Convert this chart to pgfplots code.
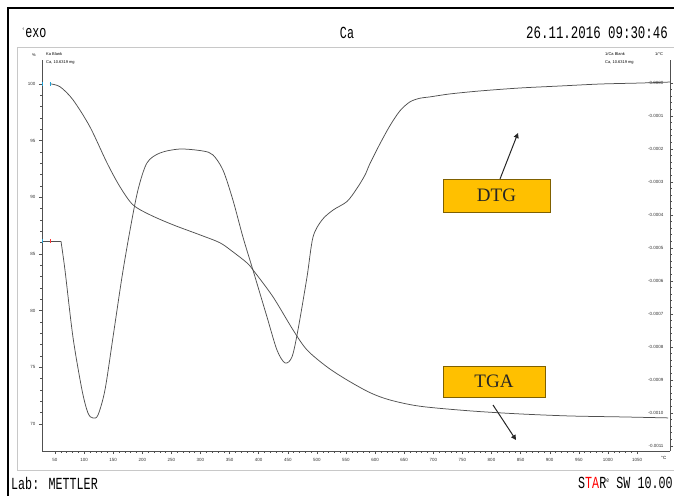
\documentclass[border=0pt]{standalone}
\usepackage{pgfplots}
\pgfplotsset{compat=1.18}
\usepackage{pgfplotstable}
\usetikzlibrary{arrows.meta}
\usepackage{fontspec}
\setmainfont{Liberation Serif}
\newfontfamily\monof{Liberation Mono}
\newfontfamily\sansf{Liberation Sans}
\definecolor{curve}{HTML}{505050}
\definecolor{boxfill}{HTML}{FFC000}
\definecolor{boxedge}{HTML}{7F6000}
\definecolor{framegray}{HTML}{C8C8C8}

\pgfplotstableread{
T tga
41.4 100
58.6 99.74
80.9 98.59
110.1 96.20
139.3 93.03
161.7 90.91
184.0 89.32
213.2 88.44
252.7 87.56
299.1 86.67
333.5 85.97
355.8 85.17
379.9 84.20
390.2 83.58
424.6 81.20
458.9 78.29
483.0 76.52
517.4 75.02
551.7 73.87
591.2 72.75
625.6 72.10
677.1 71.55
763.1 71.14
849.0 70.87
934.9 70.69
1020.8 70.61
1103.3 70.52
}\tgadata

\pgfplotstableread{
T dtg
60.3 -0.000480
67.2 -0.000568
80.9 -0.000771
96.4 -0.000931
106.7 -0.001001
115.3 -0.001016
123.9 -0.001007
135.9 -0.000931
149.7 -0.000771
165.1 -0.000589
178.9 -0.000447
192.6 -0.000325
208.1 -0.000243
230.4 -0.000213
264.8 -0.000201
304.3 -0.000207
321.5 -0.000219
338.7 -0.000265
355.8 -0.000356
373.0 -0.000468
390.2 -0.000568
414.3 -0.000710
431.4 -0.000810
445.2 -0.000849
457.2 -0.000831
467.5 -0.000749
483.0 -0.000589
493.3 -0.000468
508.8 -0.000416
527.7 -0.000386
551.7 -0.000360
568.9 -0.000320
582.6 -0.000280
591.2 -0.000245
608.4 -0.000185
625.6 -0.000130
642.8 -0.000085
660.0 -0.000058
677.1 -0.000047
694.3 -0.000043
728.7 -0.000034
780.2 -0.000025
849.0 -0.000016
917.7 -0.000010
986.4 -0.000004
1055.2 -0.000001
1106.7 0.000002
}\dtgdata

\begin{document}
\begin{tikzpicture}
\begin{scope}[x=1pt,y=1pt]
\useasboundingbox (0,0) rectangle (674,495);
% outer frames
\draw[black, line width=1.2pt] (8,-10) -- (8,487) -- (700,487);
\draw[framegray, line width=1pt] (17,25) -- (17,447) -- (700,447);
\draw[framegray, line width=1pt] (17,25) -- (700,25);
% header / footer
\node[anchor=west, inner sep=0] at (22,462) {\monof\fontsize{13}{13}\selectfont\scalebox{0.9}[1.3]{\textsuperscript{\tiny\textdegree}exo}};
\node[inner sep=0] at (347,462) {\monof\fontsize{13}{13}\selectfont\scalebox{0.9}[1.3]{Ca}};
\node[anchor=west, inner sep=0] at (526,462) {\monof\fontsize{13.5}{13}\selectfont\scalebox{0.92}[1.3]{26.11.2016 09:30:46}};
\node[anchor=west, inner sep=0] at (11,12) {\monof\fontsize{13}{13}\selectfont\scalebox{0.9}[1.3]{Lab: METTLER}};
\node[anchor=west, inner sep=0] at (578,12) {\monof\fontsize{13}{13}\selectfont\scalebox{0.9}[1.3]{S\textcolor{red}{TA}R\textsuperscript{\tiny e} SW 10.00}};
% small labels at top of axes
\node[anchor=east, inner sep=0] at (36,440) {\sansf\fontsize{4}{5}\selectfont \%};
\node[anchor=west, inner sep=0] at (46,440.5) {\sansf\fontsize{4}{5}\selectfont Ka Blank};
\node[anchor=west, inner sep=0] at (46,432.5) {\sansf\fontsize{4}{5}\selectfont Ca, 10.6319 mg};
\node[anchor=west, inner sep=0] at (605,440.5) {\sansf\fontsize{4}{5}\selectfont 1/Ca Blank};
\node[anchor=west, inner sep=0] at (605,432.5) {\sansf\fontsize{4}{5}\selectfont Ca, 10.6319 mg};
\node[anchor=west, inner sep=0] at (655,440.5) {\sansf\fontsize{4}{5}\selectfont 1/\textdegree C};
\end{scope}

\pgfplotsset{common/.style={
  scale only axis, width=628pt, height=391pt,
  at={(42pt,44pt)}, anchor=south west,
  xmin=27.7, xmax=1106.7,
  axis line style={curve, line width=0.6pt},
  tick style={curve, line width=0.4pt},
  major tick length=3pt, minor tick length=1.6pt,
  tick align=outside,
  tick label style={font=\sansf\fontsize{4.5}{5}\selectfont, text=black!80},
  /pgf/number format/assume math mode=true,
  /pgf/number format/1000 sep={},
}}

\begin{axis}[common,
  axis y line*=left, axis x line*=bottom,
  ymin=67.6, ymax=102.1,
  ytick={70,75,...,100}, minor y tick num=4,
  xtick={50,100,...,1050}, minor x tick num=4,
  xticklabel style={yshift=-1pt},
  clip=false,
]
\addplot[curve, line width=0.75pt, smooth, tension=0.5] table[x=T,y=tga] {\tgadata};
\addplot[only marks, mark=|, mark size=2pt, cyan!70!teal, mark options={line width=0.8pt}] coordinates {(27.7,100) (41.4,100)};
\node[anchor=north, inner sep=0, font=\sansf\fontsize{4.5}{5}\selectfont] at (rel axis cs:0.99,0) [yshift=-5pt] {\textdegree C};
\end{axis}

\begin{axis}[common,
  axis y line*=right, axis x line=none,
  ymin=-0.001116, ymax=0.0000688,
  ytick={0,-0.0001,-0.0002,-0.0003,-0.0004,-0.0005,-0.0006,-0.0007,-0.0008,-0.0009,-0.0010,-0.0011},
  yticklabels={-0.0000,-0.0001,-0.0002,-0.0003,-0.0004,-0.0005,-0.0006,-0.0007,-0.0008,-0.0009,-0.0010,-0.0011},
  minor y tick num=4,
  yticklabel style={anchor=east, xshift=-6pt},
  scaled y ticks=false,
  clip=false,
]
\addplot[curve, line width=0.75pt] coordinates {(27.7,-0.000480) (60.3,-0.000480)};
\addplot[curve, line width=0.75pt, smooth, tension=0.5] table[x=T,y=dtg] {\dtgdata};
\addplot[only marks, mark=|, mark size=2pt, cyan!70!teal, mark options={line width=0.8pt}] coordinates {(27.7,-0.000480)};
\addplot[only marks, mark=|, mark size=2pt, red!80, mark options={line width=0.8pt}] coordinates {(41.4,-0.000480)};
\end{axis}

% annotation boxes and arrows
\begin{scope}[x=1pt,y=1pt]
\node[draw=boxedge, fill=boxfill, line width=0.8pt, minimum width=107pt, minimum height=33pt, inner sep=0, text=black!85, font=\fontsize{19}{19}\selectfont] at (496.5,299.5) {DTG};
\draw[black!85, line width=1pt, -{Stealth[length=5pt,width=5pt,inset=0pt]}] (500,316) -- (518,362);
\node[draw=boxedge, fill=boxfill, line width=0.8pt, minimum width=102pt, minimum height=31pt, inner sep=0, text=black!85, font=\fontsize{19}{19}\selectfont] at (494,113.5) {TGA};
\draw[black!85, line width=1pt, -{Stealth[length=5pt,width=5pt,inset=0pt]}] (493,90) -- (516,55);
\end{scope}
\end{tikzpicture}
\end{document}
